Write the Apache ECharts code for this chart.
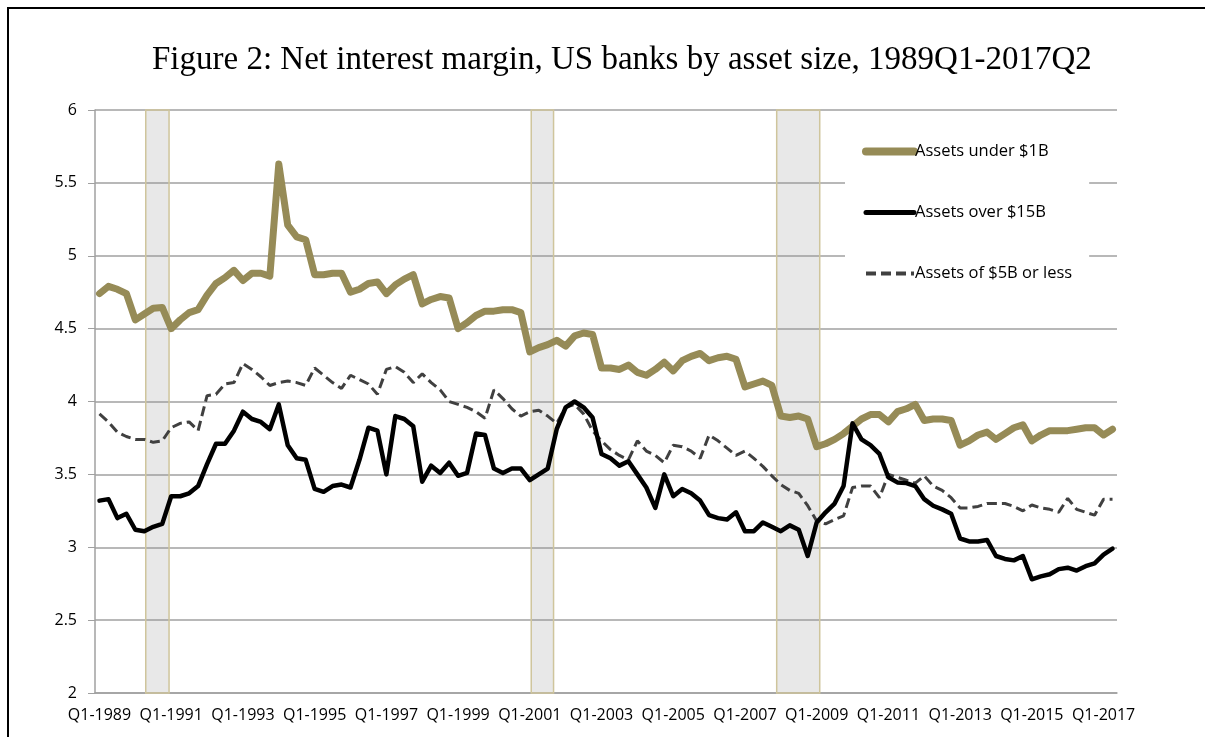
<!DOCTYPE html>
<html>
<head>
<meta charset="utf-8">
<script src="https://cdn.jsdelivr.net/npm/echarts@6/dist/echarts.min.js"></script>
<style>
  html, body { margin: 0; padding: 0; background: #fff; }
  #main { width: 1205px; height: 737px; }
</style>
</head>
<body>
<div id="main"></div>
<script>
// quarters 1989Q1 .. 2017Q2
const startYear = 1989;
const quarterCount = 114;
const quarters = [];
for (let i = 0; i < quarterCount; i++) {
  quarters.push("Q" + ((i % 4) + 1) + "-" + (startYear + Math.floor(i / 4)));
}

// Assets under $1B
const under1B = [
  4.74, 4.79, 4.77, 4.74, 4.56, 4.60, 4.64, 4.645, 4.50, 4.56,
  4.61, 4.63, 4.73, 4.81, 4.85, 4.90, 4.83, 4.88, 4.88, 4.86,
  5.63, 5.21, 5.13, 5.11, 4.87, 4.87, 4.88, 4.88, 4.75, 4.77,
  4.81, 4.82, 4.74, 4.80, 4.84, 4.87, 4.67, 4.70, 4.72, 4.71,
  4.50, 4.54, 4.59, 4.62, 4.62, 4.63, 4.63, 4.61, 4.34, 4.37,
  4.39, 4.42, 4.38, 4.45, 4.47, 4.46, 4.23, 4.23, 4.22, 4.25,
  4.20, 4.18, 4.22, 4.27, 4.21, 4.28, 4.31, 4.33, 4.28, 4.30,
  4.31, 4.29, 4.10, 4.12, 4.14, 4.11, 3.90, 3.89, 3.90, 3.88,
  3.69, 3.71, 3.74, 3.78, 3.83, 3.88, 3.91, 3.91, 3.86, 3.93,
  3.95, 3.98, 3.87, 3.88, 3.88, 3.87, 3.70, 3.73, 3.77, 3.79,
  3.74, 3.78, 3.82, 3.84, 3.73, 3.77, 3.80, 3.80, 3.80, 3.81,
  3.82, 3.82, 3.77, 3.81
];

// Assets over $15B
const over15B = [
  3.32, 3.33, 3.20, 3.23, 3.12, 3.11, 3.14, 3.16, 3.35, 3.35,
  3.37, 3.42, 3.57, 3.71, 3.71, 3.80, 3.93, 3.88, 3.86, 3.81,
  3.98, 3.70, 3.61, 3.60, 3.40, 3.38, 3.42, 3.43, 3.41, 3.60,
  3.82, 3.80, 3.50, 3.90, 3.88, 3.83, 3.45, 3.56, 3.51, 3.58,
  3.49, 3.51, 3.78, 3.77, 3.54, 3.51, 3.54, 3.54, 3.46, 3.50,
  3.54, 3.81, 3.96, 4.00, 3.96, 3.89, 3.64, 3.61, 3.56, 3.59,
  3.50, 3.41, 3.27, 3.50, 3.35, 3.40, 3.37, 3.32, 3.22, 3.20,
  3.19, 3.24, 3.11, 3.11, 3.17, 3.14, 3.11, 3.15, 3.12, 2.94,
  3.17, 3.24, 3.30, 3.42, 3.85, 3.74, 3.70, 3.64, 3.48, 3.445,
  3.44, 3.42, 3.33, 3.285, 3.26, 3.23, 3.06, 3.04, 3.04, 3.05,
  2.94, 2.92, 2.91, 2.94, 2.78, 2.80, 2.815, 2.85, 2.86, 2.84,
  2.87, 2.89, 2.95, 2.99
];

// Assets of $5B or less
const upTo5B = [
  3.915, 3.86, 3.79, 3.76, 3.74, 3.74, 3.72, 3.73, 3.82, 3.85,
  3.86, 3.80, 4.04, 4.05, 4.12, 4.13, 4.26, 4.22, 4.17, 4.11,
  4.13, 4.14, 4.13, 4.11, 4.23, 4.18, 4.13, 4.09, 4.18, 4.15,
  4.12, 4.05, 4.22, 4.24, 4.20, 4.13, 4.19, 4.13, 4.08, 4.00,
  3.98, 3.96, 3.93, 3.885, 4.08, 4.02, 3.95, 3.90, 3.93, 3.94,
  3.90, 3.85, 3.96, 3.98, 3.915, 3.80, 3.73, 3.67, 3.63, 3.60,
  3.73, 3.66, 3.63, 3.58, 3.70, 3.69, 3.66, 3.61, 3.77, 3.73,
  3.68, 3.63, 3.66, 3.61, 3.555, 3.49, 3.43, 3.39, 3.37, 3.285,
  3.18, 3.16, 3.19, 3.215, 3.41, 3.42, 3.42, 3.34, 3.50, 3.48,
  3.46, 3.44, 3.49, 3.42, 3.39, 3.34, 3.27, 3.27, 3.28, 3.30,
  3.30, 3.30, 3.28, 3.25, 3.29, 3.27, 3.26, 3.24, 3.335, 3.26,
  3.24, 3.22, 3.33, 3.33
];

// recession shading, in quarter units from 1989Q1
const recessions = [[5.66, 8.26], [48.66, 51.15], [76.04, 80.84]];

const yTicks = { min: 2, max: 6, step: 0.5 };

const labelFont = "'Open Sans', 'Noto Sans', sans-serif";
const gold = "#968b57";

var myChart = echarts.init(document.getElementById("main"));
var option = {
  backgroundColor: "#fff",
  animation: false,
  title: {
    text: "Figure 2: Net interest margin, US banks by asset size, 1989Q1-2017Q2",
    left: 147,
    top: 39,
    textStyle: {
      fontFamily: "'Liberation Serif', 'DejaVu Serif', serif",
      fontSize: 33,
      fontWeight: "normal",
      color: "#000",
    },
  },
  graphic: [
    {
      type: "rect",
      shape: { x: 8, y: 8, width: 1400, height: 1000 },
      style: { fill: "none", stroke: "#000", lineWidth: 2 },
      silent: true,
    },
  ],
  legend: {
    orient: "vertical",
    left: 845,
    top: 123,
    padding: [20, 17, 22, 17],
    backgroundColor: "#fff",
    itemWidth: 48,
    itemHeight: 14,
    itemGap: 44,
    itemStyle: { opacity: 0 },
    lineStyle: { width: "inherit", type: "inherit" },
    textStyle: {
      fontFamily: labelFont,
      fontSize: 16.5,
      color: "#000",
      padding: [0, 0, 0, -4],
    },
    data: [
      { name: "Assets under $1B", lineStyle: { width: 8, cap: "round" } },
      { name: "Assets over $15B", lineStyle: { width: 5, cap: "round" } },
      { name: "Assets of $5B or less", lineStyle: { width: 4 } },
    ],
  },
  grid: {
    left: 95,
    right: 88,
    top: 110,
    bottom: 44,
  },
  xAxis: [
    {
      type: "category",
      data: quarters,
      boundaryGap: true,
      axisLine: { lineStyle: { color: "#a0a0a0", width: 1.5 } },
      axisTick: {
        interval: 0,
        length: 6,
        lineStyle: { color: "#a0a0a0" },
      },
      axisLabel: {
        interval: 7,
        margin: 14,
        fontFamily: labelFont,
        fontSize: 16,
        color: "#000",
      },
      splitLine: { show: false },
    },
    {
      type: "value",
      min: 0,
      max: quarterCount,
      show: false,
    },
  ],
  yAxis: {
    type: "value",
    min: yTicks.min,
    max: yTicks.max,
    interval: yTicks.step,
    axisLine: { show: true, lineStyle: { color: "#a0a0a0", width: 1.5 } },
    axisTick: { show: true, length: 7, lineStyle: { color: "#a0a0a0" } },
    axisLabel: {
      margin: 18,
      fontFamily: labelFont,
      fontSize: 16,
      color: "#000",
    },
    splitLine: { lineStyle: { color: "#a0a0a0", width: 1.5 } },
  },
  series: [
    {
      name: "recessions",
      type: "line",
      xAxisIndex: 1,
      data: [],
      z: 1,
      silent: true,
      markArea: {
        silent: true,
        itemStyle: {
          color: "rgba(150,150,150,0.22)",
          borderColor: "#cfc59c",
          borderWidth: 1.5,
        },
        data: recessions.map((r) => [{ xAxis: r[0], yAxis: yTicks.max }, { xAxis: r[1], yAxis: yTicks.min }]),
      },
    },
    {
      name: "Assets under $1B",
      type: "line",
      data: under1B,
      symbol: "none",
      z: 3,
      lineStyle: { width: 7, color: gold, cap: "round", join: "round" },
      itemStyle: { color: gold },
    },
    {
      name: "Assets over $15B",
      type: "line",
      data: over15B,
      symbol: "none",
      z: 4,
      lineStyle: { width: 4.5, color: "#000", cap: "round", join: "round" },
      itemStyle: { color: "#000" },
    },
    {
      name: "Assets of $5B or less",
      type: "line",
      data: upTo5B,
      symbol: "none",
      z: 3,
      lineStyle: { width: 3, color: "#404040", type: [10, 5] },
      itemStyle: { color: "#404040" },
    },
  ],
};
myChart.setOption(option);
</script>
</body>
</html>
